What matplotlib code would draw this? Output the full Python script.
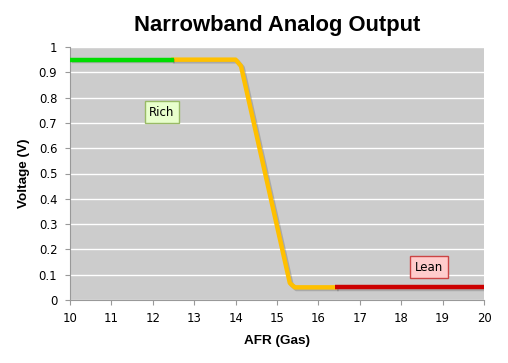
import matplotlib
matplotlib.use("Agg")
import matplotlib.pyplot as plt
import matplotlib.patheffects as pe

rich_x = [10, 12.5]
rich_y = [0.95, 0.95]
mid_x = [12.5, 14.0, 14.13, 15.31, 15.43, 16.4]
mid_y = [0.95, 0.95, 0.925, 0.067, 0.05, 0.05]
lean_x = [16.4, 20]
lean_y = [0.05, 0.05]
xticks = list(range(10, 21))
yticks = [0, 0.1, 0.2, 0.3, 0.4, 0.5, 0.6, 0.7, 0.8, 0.9, 1]
ytick_labels = ["0", "0.1", "0.2", "0.3", "0.4", "0.5", "0.6", "0.7", "0.8", "0.9", "1"]

fig = plt.figure(figsize=(5.08, 3.63), dpi=100)
ax = fig.add_axes([70/508, 63/363, 414/508, 253/363])
ax.set_facecolor("#cccccc")
ax.set_xlim(10, 20)
ax.set_ylim(0, 1)
ax.set_yticks(yticks)
ax.set_yticklabels(ytick_labels)
ax.set_xticks(xticks)
ax.grid(axis="y", color="white", linewidth=1)
ax.set_axisbelow(True)
for s in ["top", "right"]:
    ax.spines[s].set_visible(False)
for s in ["left", "bottom"]:
    ax.spines[s].set_color("#999999")
ax.tick_params(direction="out", length=3.6, color="#999999", labelsize=8.4, labelcolor="black")
ax.tick_params(axis="y", pad=5.5)
ax.tick_params(axis="x", pad=5)

shadow = [pe.SimpleLineShadow(offset=(1.2, -1.2), shadow_color="#444444", alpha=0.25), pe.Normal()]
ax.plot(mid_x, mid_y, color="#ffc000", lw=3.2, solid_joinstyle="round", path_effects=shadow, zorder=3)
ax.plot(rich_x, rich_y, color="#00dd00", lw=3.2, solid_capstyle="butt", path_effects=shadow, zorder=4)
ax.plot(lean_x, lean_y, color="#cc0000", lw=3.2, solid_capstyle="butt", path_effects=shadow, zorder=4)

ax.text(12.22, 0.743, "Rich", fontsize=8.5, ha="center", va="center",
        bbox=dict(boxstyle="square,pad=0.35", fc="#e8ffcc", ec="#99bb66", lw=1), zorder=5)
ax.text(18.67, 0.13, "Lean", fontsize=8.5, ha="center", va="center",
        bbox=dict(boxstyle="square,pad=0.4", fc="#ffcccc", ec="#cc4444", lw=1), zorder=5)

fig.text(277/508, 1 - 25/363, "Narrowband Analog Output", ha="center", va="center",
         fontsize=15.8, fontweight="bold", family="Liberation Sans")
ax.set_xlabel("AFR (Gas)", fontsize=9.7, fontweight="bold", family="Liberation Sans", labelpad=7)
ax.set_ylabel("Voltage (V)", fontsize=9.7, fontweight="bold", family="Liberation Sans", labelpad=6)

fig.savefig("out.png", dpi=100)
